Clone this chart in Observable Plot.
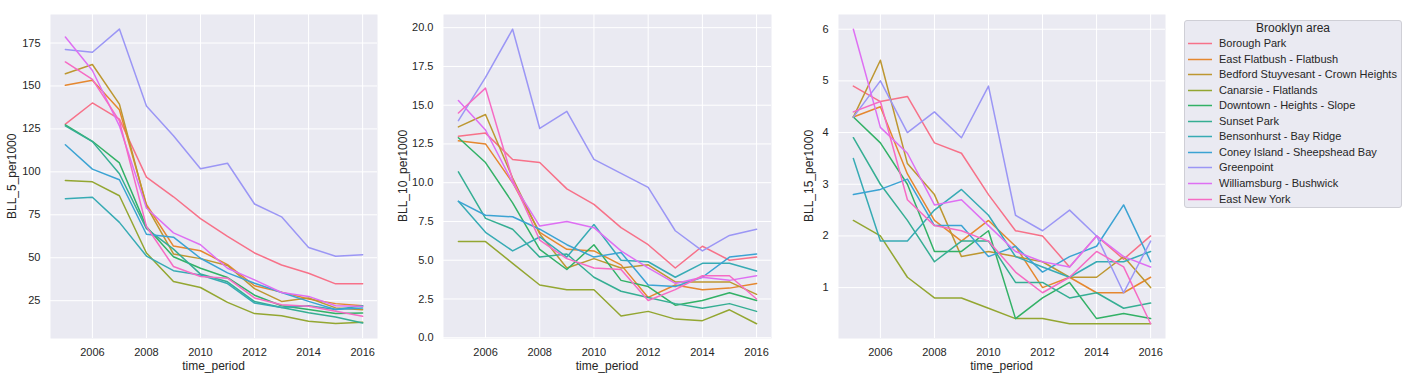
<!DOCTYPE html>
<html>
<head>
<meta charset="utf-8">
<script src="https://cdn.jsdelivr.net/npm/d3@7"></script>
<script src="https://cdn.jsdelivr.net/npm/@observablehq/plot@0.6"></script>
<style>
  html, body { margin: 0; padding: 0; background: #ffffff; }
  body { width: 1408px; height: 380px; position: relative; overflow: hidden;
         font-family: "Liberation Sans", Arial, sans-serif; color: #262626; }
  .panel { position: absolute; top: 0; }
  .xlabel { position: absolute; font-size: 12px; transform: translateX(-50%); white-space: nowrap; }
  .ylabel { position: absolute; font-size: 12px; white-space: nowrap; transform-origin: 0 0; }
  #legend { position: absolute; left: 1184px; top: 20px; width: 218px; height: 188px;
            background: #eaeaf2; border: 1px solid #cfcfd6; border-radius: 3px; box-sizing: border-box; }
  #legend .title { position: absolute; left: 0; width: 100%; top: 0px; line-height: 14px; text-align: center; font-size: 12px; }
  #legend .item { position: absolute; left: 0; height: 14px; font-size: 11px; white-space: nowrap; }
  #legend .item span { position: absolute; left: 34px; top: 0; line-height: 14px; }
  #legend .item svg { position: absolute; left: 2px; top: 0; }
</style>
</head>
<body>
<script>
const years = [2005, 2006, 2007, 2008, 2009, 2010, 2011, 2012, 2013, 2014, 2015, 2016];

const areas = [
  "Borough Park",
  "East Flatbush - Flatbush",
  "Bedford Stuyvesant - Crown Heights",
  "Canarsie - Flatlands",
  "Downtown - Heights - Slope",
  "Sunset Park",
  "Bensonhurst - Bay Ridge",
  "Coney Island - Sheepshead Bay",
  "Greenpoint",
  "Williamsburg - Bushwick",
  "East New York"
];

const colors = ["#f77189", "#e5872f", "#bd9731", "#93a631", "#32b166", "#35ae93",
                "#37abb4", "#3ba3d3", "#9b96f5", "#de6ff3", "#f66bc4"];

// BLL_5_per1000, one row per area (same order as areas), columns = years
const bll5 = [
  [127.8, 140.1, 130.7, 96.9, 85.5, 72.8, 62.5, 52.8, 45.8, 41.0, 34.8, 34.8],
  [150.4, 153.3, 136.1, 81.0, 56.8, 54.1, 46.0, 33.7, 30.0, 26.0, 23.3, 22.1],
  [157.1, 162.5, 139.4, 80.0, 52.2, 49.5, 45.5, 32.0, 24.6, 26.6, 20.8, 19.8],
  [95.0, 94.2, 86.1, 52.8, 36.2, 32.7, 24.0, 17.5, 16.3, 13.0, 11.7, 12.4],
  [127.4, 117.8, 105.2, 68.0, 50.6, 43.9, 38.5, 28.2, 22.1, 19.9, 17.5, 17.9],
  [126.8, 117.6, 98.9, 67.0, 55.0, 40.5, 36.0, 24.5, 21.0, 18.0, 15.5, 12.0],
  [84.4, 85.2, 70.6, 51.0, 42.5, 40.0, 35.0, 23.6, 21.1, 22.1, 19.9, 22.0],
  [115.8, 101.6, 95.4, 63.7, 62.0, 49.7, 41.2, 35.2, 29.8, 24.6, 19.9, 20.8],
  [171.2, 169.6, 183.1, 138.4, 121.0, 101.8, 105.0, 81.3, 73.8, 56.0, 50.9, 51.8],
  [178.5, 159.0, 126.8, 79.0, 64.5, 57.6, 43.9, 37.1, 29.8, 27.5, 22.1, 21.7],
  [164.0, 153.8, 129.7, 68.2, 44.9, 39.1, 38.1, 26.6, 22.7, 21.8, 18.8, 15.9]
];

// BLL_10_per1000
const bll10 = [
  [13.0, 13.2, 11.5, 11.3, 9.6, 8.6, 7.1, 6.0, 4.5, 5.9, 5.0, 5.2],
  [12.7, 12.5, 10.0, 6.8, 5.7, 5.6, 4.7, 2.6, 3.4, 3.1, 3.2, 3.5],
  [13.6, 14.4, 10.3, 6.7, 4.5, 5.1, 4.5, 4.7, 3.6, 3.6, 3.6, 2.8],
  [6.2, 6.2, 4.8, 3.4, 3.1, 3.1, 1.4, 1.7, 1.2, 1.1, 1.8, 0.9],
  [12.9, 11.3, 8.7, 5.7, 4.4, 6.0, 3.7, 3.3, 2.1, 2.4, 2.9, 2.4],
  [10.7, 7.7, 7.0, 5.2, 5.4, 3.9, 3.0, 2.6, 2.2, 1.9, 2.2, 1.7],
  [8.8, 6.8, 5.6, 6.5, 5.2, 7.3, 5.0, 4.9, 3.9, 4.8, 4.8, 4.3],
  [8.8, 7.9, 7.8, 7.0, 6.0, 5.2, 5.5, 3.4, 3.3, 3.9, 5.2, 5.4],
  [14.0, 16.8, 19.9, 13.5, 14.6, 11.5, 10.6, 9.7, 6.9, 5.6, 6.6, 7.0],
  [15.3, 13.4, 10.0, 7.2, 7.5, 7.1, 5.6, 4.5, 3.5, 3.9, 3.7, 4.0],
  [14.5, 16.1, 10.2, 6.3, 5.1, 4.5, 4.4, 2.4, 3.1, 4.0, 4.0, 2.5]
];

// BLL_15_per1000
const bll15 = [
  [4.9, 4.6, 4.7, 3.8, 3.6, 2.8, 2.1, 2.0, 1.4, 2.0, 1.55, 2.0],
  [4.3, 4.5, 3.2, 2.3, 1.9, 2.3, 1.8, 1.0, 1.2, 0.9, 0.9, 1.2],
  [4.3, 5.4, 3.4, 2.8, 1.6, 1.7, 1.6, 1.5, 1.2, 1.2, 1.6, 1.0],
  [2.3, 2.0, 1.2, 0.8, 0.8, 0.6, 0.4, 0.4, 0.3, 0.3, 0.3, 0.3],
  [4.3, 3.8, 3.0, 1.7, 1.7, 2.1, 0.4, 0.8, 1.1, 0.4, 0.5, 0.4],
  [3.9, 3.0, 2.3, 1.5, 1.9, 1.9, 1.1, 1.1, 0.8, 0.9, 0.6, 0.7],
  [3.5, 1.9, 1.9, 2.5, 2.9, 2.4, 1.6, 1.4, 1.2, 1.5, 1.5, 1.7],
  [2.8, 2.9, 3.1, 2.2, 2.2, 1.6, 1.8, 1.3, 1.6, 1.8, 2.6, 1.5],
  [4.3, 5.0, 4.0, 4.4, 3.9, 4.9, 2.4, 2.1, 2.5, 2.0, 0.9, 1.9],
  [6.0, 4.1, 3.6, 2.6, 2.7, 2.2, 1.7, 1.5, 1.4, 2.0, 1.6, 1.4],
  [4.4, 4.6, 2.7, 2.2, 2.1, 1.9, 1.3, 0.9, 1.2, 1.7, 1.4, 0.3]
];

const xTicks = [2006, 2008, 2010, 2012, 2014, 2016];
const yTicks5 = [25, 50, 75, 100, 125, 150, 175];
const yTicks10 = [0, 2.5, 5, 7.5, 10, 12.5, 15, 17.5, 20];
const yTicks15 = [1, 2, 3, 4, 5, 6];
const yLabels = ["BLL_5_per1000", "BLL_10_per1000", "BLL_15_per1000"];

function tidy(matrix) {
  const rows = [];
  matrix.forEach((vals, i) => vals.forEach((v, j) => rows.push({area: areas[i], year: years[j], value: v})));
  return rows;
}

const panels = [
  {data: tidy(bll5), yDomain: [3.0, 191.6], yTicks: yTicks5, fmt: d => String(d),
   left: 0, width: 380, ml: 50, mr: 3, label: yLabels[0], ylx: 5},
  {data: tidy(bll10), yDomain: [-0.05, 20.85], yTicks: yTicks10, fmt: d => d.toFixed(1),
   left: 390, width: 384, ml: 53, mr: 3, label: yLabels[1], ylx: 396},
  {data: tidy(bll15), yDomain: [0.015, 6.285], yTicks: yTicks15, fmt: d => String(d),
   left: 780, width: 388, ml: 58, mr: 3, label: yLabels[2], ylx: 802}
];

const mt = 14, mb = 42, H = 380;

panels.forEach(p => {
  const chart = Plot.plot({
    width: p.width,
    height: H,
    marginLeft: p.ml,
    marginRight: p.mr,
    marginTop: mt,
    marginBottom: mb,
    style: {fontFamily: '"Liberation Sans", Arial, sans-serif', fontSize: "11px", color: "#262626", background: "transparent", overflow: "visible"},
    x: {domain: [2004.45, 2016.55], label: null},
    y: {domain: p.yDomain, label: null},
    color: {domain: areas, range: colors},
    marks: [
      Plot.frame({fill: "#eaeaf2", stroke: "none"}),
      Plot.gridX({ticks: xTicks, stroke: "#ffffff", strokeOpacity: 1, strokeWidth: 1}),
      Plot.gridY({ticks: p.yTicks, stroke: "#ffffff", strokeOpacity: 1, strokeWidth: 1}),
      Plot.line(p.data, {x: "year", y: "value", z: "area", stroke: "area", strokeWidth: 1.5}),
      Plot.axisX({ticks: xTicks, tickFormat: d => String(d), tickSize: 0, tickPadding: 10, label: null, fill: "#262626"}),
      Plot.axisY({ticks: p.yTicks, tickFormat: p.fmt, tickSize: 0, tickPadding: 10, label: null, fill: "#262626"})
    ]
  });
  const div = document.createElement("div");
  div.className = "panel";
  div.style.left = p.left + "px";
  div.appendChild(chart);
  document.body.appendChild(div);

  const xl = document.createElement("div");
  xl.className = "xlabel";
  xl.textContent = "time_period";
  xl.style.left = (p.left + p.ml + (p.width - p.ml - p.mr) / 2) + "px";
  xl.style.top = "359px";
  document.body.appendChild(xl);

  const yl = document.createElement("div");
  yl.className = "ylabel";
  yl.textContent = p.label;
  document.body.appendChild(yl);
  const w = yl.offsetWidth;
  const cy = mt + (H - mt - mb) / 2;
  yl.style.left = p.ylx + "px";
  yl.style.top = (cy + w / 2) + "px";
  yl.style.transform = "rotate(-90deg)";
});

// Legend
const legend = document.createElement("div");
legend.id = "legend";
const title = document.createElement("div");
title.className = "title";
title.textContent = "Brooklyn area";
legend.appendChild(title);
areas.forEach((a, i) => {
  const item = document.createElement("div");
  item.className = "item";
  item.style.top = (15 + i * 15.55) + "px";
  item.innerHTML = `<svg width="26" height="14"><line x1="1" x2="25" y1="7.5" y2="7.5" stroke="${colors[i]}" stroke-width="1.5"/></svg><span>${a}</span>`;
  legend.appendChild(item);
});
document.body.appendChild(legend);
</script>
</body>
</html>
